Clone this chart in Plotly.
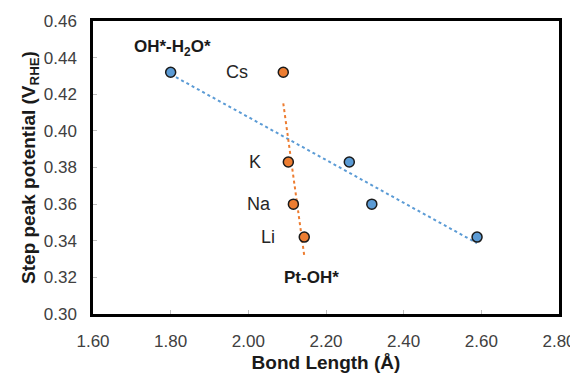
import numpy as np
import plotly.graph_objects as go

# Data
oh_h2o_x = [1.80, 2.26, 2.318, 2.589]
oh_h2o_y = [0.432, 0.383, 0.360, 0.342]
pt_oh_x = [2.09, 2.103, 2.116, 2.144]
pt_oh_y = [0.432, 0.383, 0.360, 0.342]
cation_labels = ["Cs", "K", "Na", "Li"]
x_ticks = [1.60, 1.80, 2.00, 2.20, 2.40, 2.60, 2.80]
y_ticks = [0.30, 0.32, 0.34, 0.36, 0.38, 0.40, 0.42, 0.44, 0.46]

BLUE = "#5B9BD5"
ORANGE = "#ED7D31"
FONT = "Liberation Sans, Arial, sans-serif"

fig = go.Figure()

def trend(xs, ys):
    m, b = np.polyfit(xs, ys, 1)
    xx = [min(xs), max(xs)]
    return xx, [m * v + b for v in xx]

tx, ty = trend(oh_h2o_x, oh_h2o_y)
fig.add_trace(go.Scatter(x=tx, y=ty, mode="lines",
                         line=dict(color=BLUE, width=2, dash="dot"), hoverinfo="skip"))
tx, ty = trend(pt_oh_x, pt_oh_y)
fig.add_trace(go.Scatter(x=tx, y=ty, mode="lines",
                         line=dict(color=ORANGE, width=2, dash="dot"), hoverinfo="skip"))

fig.add_trace(go.Scatter(x=oh_h2o_x, y=oh_h2o_y, mode="markers",
                         marker=dict(size=10, color=BLUE, line=dict(color="#1a1a1a", width=1.5))))
fig.add_trace(go.Scatter(x=pt_oh_x, y=pt_oh_y, mode="markers",
                         marker=dict(size=10, color=ORANGE, line=dict(color="#1a1a1a", width=1.5))))

label_xshift = [-33, -25, -20, -27]
for lx, ly, lt, xs in zip(pt_oh_x, pt_oh_y, cation_labels, label_xshift):
    fig.add_annotation(x=lx, y=ly, text=lt, showarrow=False, xanchor="right",
                       xshift=xs, font=dict(family=FONT, size=18, color="#262626"))

fig.add_annotation(x=1.804, y=0.4453, text="<b>OH*-H<sub>2</sub>O*</b>", showarrow=False,
                   font=dict(family=FONT, size=17, color="#1a1a1a"))
fig.add_annotation(x=2.162, y=0.320, text="<b>Pt-OH*</b>", showarrow=False,
                   font=dict(family=FONT, size=17, color="#1a1a1a"))

axis_common = dict(showgrid=False, zeroline=False, showline=True, linecolor="black",
                   linewidth=2.5, mirror=True, ticks="inside", ticklen=4,
                   tickcolor="#bfbfbf", tickwidth=1, automargin=False,
                   ticklabeloverflow="allow",
                   tickfont=dict(family=FONT, size=17, color="#404040"))

fig.update_xaxes(range=[1.60, 2.80], tickvals=x_ticks,
                 ticktext=[f"{v:.2f}" for v in x_ticks],
                 title=dict(text="<b>Bond Length (Å)</b>", font=dict(family=FONT, size=19, color="#1a1a1a"),
                            standoff=6),
                 ticklabelstandoff=10, **axis_common)
fig.update_yaxes(range=[0.30, 0.46], tickvals=y_ticks,
                 ticktext=[f"{v:.2f}" for v in y_ticks],
                 title=dict(text="<b>Step peak potential (V<sub>RHE</sub>)</b>",
                            font=dict(family=FONT, size=19, color="#1a1a1a"), standoff=4),
                 ticklabelstandoff=10, **axis_common)

# page body has an 8px margin; size the figure so the plot area lands where the reference has it
fig.update_layout(width=570, height=368, showlegend=False,
                  margin=dict(l=85, r=19, t=13, b=62),
                  plot_bgcolor="white", paper_bgcolor="white")

fig.write_html("out.html")
